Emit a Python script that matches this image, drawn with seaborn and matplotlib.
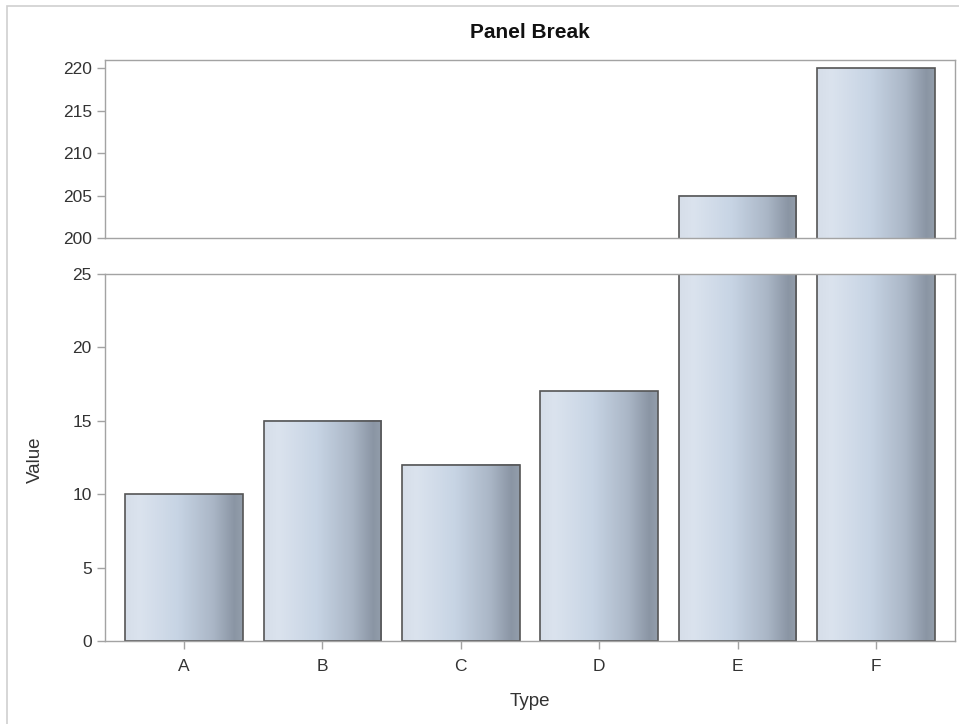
import numpy as np
import pandas as pd
import matplotlib
matplotlib.use("Agg")
import matplotlib.pyplot as plt
from matplotlib.colors import LinearSegmentedColormap
from matplotlib.patches import Rectangle
import seaborn as sns

# Data
types = ["A", "B", "C", "D", "E", "F"]
values = [10, 15, 12, 17, 205, 220]
upper_ticks = [200, 205, 210, 215, 220]
lower_ticks = [0, 5, 10, 15, 20, 25]

df = pd.DataFrame({"Type": types, "Value": values})

sns.set_theme(style="white")
plt.rcParams["font.family"] = ["Liberation Sans", "DejaVu Sans"]

W, H = 959, 724
fig = plt.figure(figsize=(W / 100, H / 100), dpi=100)

def frac_axes(x0, y0, x1, y1):
    return fig.add_axes([x0 / W, 1 - y1 / H, (x1 - x0) / W, (y1 - y0) / H])

ax_top = frac_axes(105, 60, 955, 238)
ax_bot = frac_axes(105, 274, 955, 641)

bar_cmap = LinearSegmentedColormap.from_list(
    "steel",
    [(0.0, "#d6dee9"), (0.12, "#dbe3ee"), (0.45, "#c7d4e4"),
     (0.75, "#aab6c6"), (0.93, "#8a95a4"), (1.0, "#939eab")],
)
grad = np.linspace(0, 1, 256).reshape(1, -1)

spine_col = "#a3a3a3"
text_col = "#333333"
limits = {ax_top: (200, 220.95), ax_bot: (0, 25)}

for ax in (ax_top, ax_bot):
    lo, hi = limits[ax]
    sns.barplot(data=df, x="Type", y="Value", ax=ax, width=0.85,
                color="#c7d4e4", edgecolor="#555555", linewidth=1.2)
    for p in list(ax.patches):
        x0, y0 = p.get_x(), p.get_y()
        w, h = p.get_width(), p.get_height()
        ya, yb = max(y0, lo), min(y0 + h, hi)
        if yb > ya:
            ax.imshow(grad, extent=[x0, x0 + w, ya, yb], cmap=bar_cmap,
                      aspect="auto", interpolation="bicubic",
                      zorder=p.get_zorder() - 0.01)
        p.set_facecolor("none")
        p.set_zorder(p.get_zorder() + 0.01)
    ax.set_xlim(-0.57, 5.57)
    ax.set_ylim(lo, hi)
    for s in ax.spines.values():
        s.set_color(spine_col)
        s.set_linewidth(1.0)
        s.set_zorder(5)
    ax.tick_params(axis="both", colors=spine_col, labelcolor=text_col,
                   labelsize=12.5, length=6, width=1.0, direction="out",
                   left=True, bottom=True)
    ax.set_xlabel("")
    ax.set_ylabel("")

ax_top.set_yticks(upper_ticks)
ax_top.set_xticks([])
ax_top.tick_params(axis="x", bottom=False, labelbottom=False)

ax_bot.set_yticks(lower_ticks)
ax_bot.set_xticks(range(len(types)))
ax_bot.set_xticklabels(types)
ax_bot.tick_params(axis="x", pad=7)
ax_bot.set_xlabel("Type", fontsize=13.5, color=text_col, labelpad=14)

fig.text(35 / W, 1 - 460 / H, "Value", rotation=90, fontsize=13.5,
         color=text_col, ha="center", va="center")
fig.text(530 / W, 1 - 33 / H, "Panel Break", fontsize=15, fontweight="bold",
         color="#111111", ha="center", va="center")

# light outer frame
fig.patches.append(Rectangle((7 / W, -0.01), 1.0, 1 - 6 / H + 0.01,
                             transform=fig.transFigure, fill=False,
                             edgecolor="#cfcfcf", linewidth=1.2))

fig.savefig("out.png", dpi=100)
